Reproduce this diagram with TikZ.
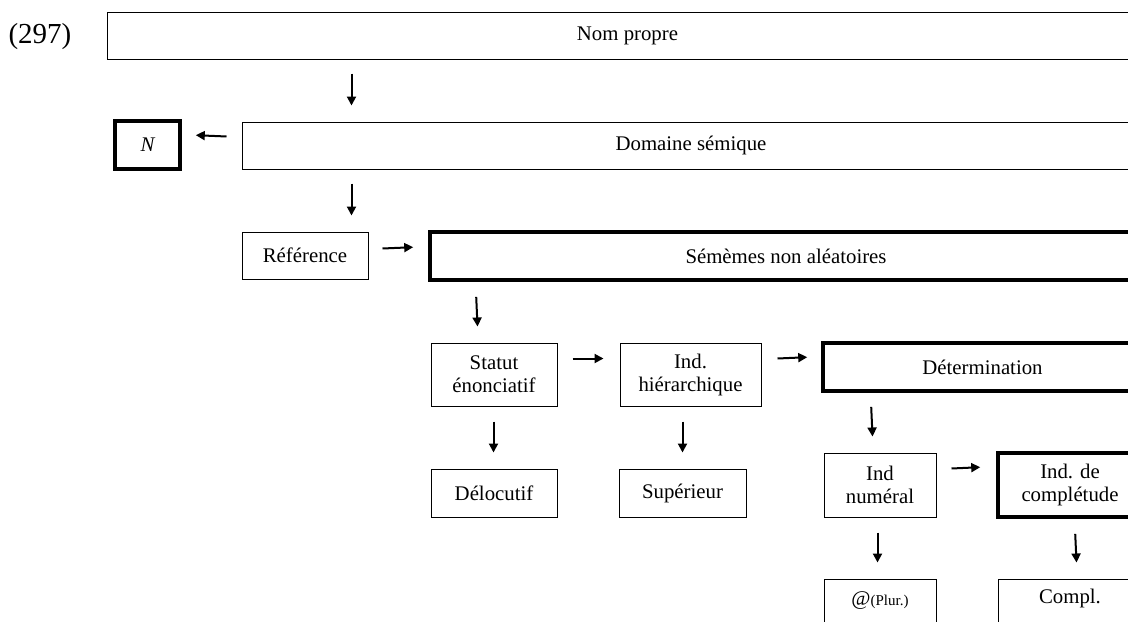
\documentclass[tikz,border=0pt]{standalone}
\usepackage{fontspec}
\setmainfont{Liberation Serif}
\usetikzlibrary{calc,arrows.meta}

\tikzset{
    box/.style={draw, line width=0.5pt, inner sep=0pt, align=center,
        font=\fontsize{10.4}{11.5}\selectfont},
    boxthick/.style={box, line width=1.8pt},
    txt/.style={inner sep=0pt, font=\fontsize{10.4}{11.5}\selectfont},
    arr/.style={line width=1pt, -{Triangle[length=4.5pt,width=4.5pt]}},
}

\begin{document}
\begin{tikzpicture}[x=0.5pt,y=-0.5pt]
        \useasboundingbox (0,0) rectangle (1128,621);
        \clip (0,0) rectangle (1128,621);
        % example number
        \node[inner sep=0pt, font=\fontsize{14.5}{16}\selectfont] (ex) at (40,37) {(297)};
        % first rows
        \node[box, minimum width=520.5pt, minimum height=23.5pt] (nom) at (627.5,35.5) {Nom propre};
        \node[box, minimum width=449pt, minimum height=23.5pt] (dom) at (691,145.5) {Domaine sémique};
        \node[boxthick, minimum width=32.5pt, minimum height=24pt] (n) at (147.5,145) {\itshape N};
        \node[box, minimum width=63pt, minimum height=23.5pt] (ref) at (305,255.5) {Référence};
        \node[boxthick, minimum width=356pt, minimum height=24pt] (sem) at (786,256) {Sémèmes non aléatoires};
        % third row
        \node[box, minimum width=63pt, minimum height=31.5pt] (stat) at (494,374.5) {Statut\\énonciatif};
        \node[box, minimum width=70.5pt, minimum height=31.5pt] (hier) at (690.5,374.5) {Ind.\\hiérarchique};
        \node[boxthick, minimum width=159.5pt, minimum height=24pt] (det) at (982.5,367) {Détermination};
        % fourth row
        \node[box, minimum width=63pt, minimum height=24pt] (delo) at (494,493) {Délocutif};
        \node[box, minimum width=63.5pt, minimum height=24pt] (sup) at (682.5,493) {Supérieur};
        \node[box, minimum width=56pt, minimum height=32pt] (num) at (880,485) {Ind\\numéral};
        \node[boxthick, minimum width=72pt, minimum height=32pt] (compl) at (1070,485) {Ind. de\\complétude};
        % last row, cut at the bottom
        \node[box, minimum width=56pt, minimum height=33pt] (plur) at (880,612) {};
        \node[box, minimum width=72pt, minimum height=33pt] (cmpl) at (1070,612) {};
        \node[txt, anchor=base] (plurtxt) at ($(plur.north)+(0,27)$) {@{\fontsize{7.5}{8}\selectfont(Plur.)}};
        \node[txt, anchor=base] (cmpltxt) at ($(cmpl.north)+(0,25)$) {Compl.};
        % arrows
        \draw[arr] ($(nom.south west)+(245,14)$) -- ($(dom.north west)+(110,-16)$);
        \draw[arr] ($(dom.north west)+(-15,15)$) -- ($(n.north east)+(14,16)$);
        \draw[arr] ($(dom.south west)+(110,14)$) -- ($(ref.north west)+(110,-16)$);
        \draw[arr] ($(ref.north east)+(14,17)$) -- ($(sem.north west)+(-15,17)$);
        \draw[arr] ($(sem.south west)+(48,15)$) -- ($(stat.north west)+(47,-16)$);
        \draw[arr] ($(stat.north east)+(15,16)$) -- ($(hier.north west)+(-16,16)$);
        \draw[arr] ($(hier.north east)+(16,16)$) -- ($(det.north west)+(-14,16)$);
        \draw[arr] ($(stat.south west)+(63,15)$) -- ($(delo.north west)+(63,-16)$);
        \draw[arr] ($(hier.south west)+(63,15)$) -- ($(sup.north west)+(64,-16)$);
        \draw[arr] ($(det.south west)+(50,14)$) -- ($(num.north west)+(49,-16)$);
        \draw[arr] ($(num.north east)+(15,16)$) -- ($(compl.north west)+(-16,16)$);
        \draw[arr] ($(num.south west)+(54,15)$) -- ($(plur.north west)+(54,-16)$);
        \draw[arr] ($(compl.south west)+(79,15)$) -- ($(cmpl.north west)+(79,-16)$);
\end{tikzpicture}
\end{document}
